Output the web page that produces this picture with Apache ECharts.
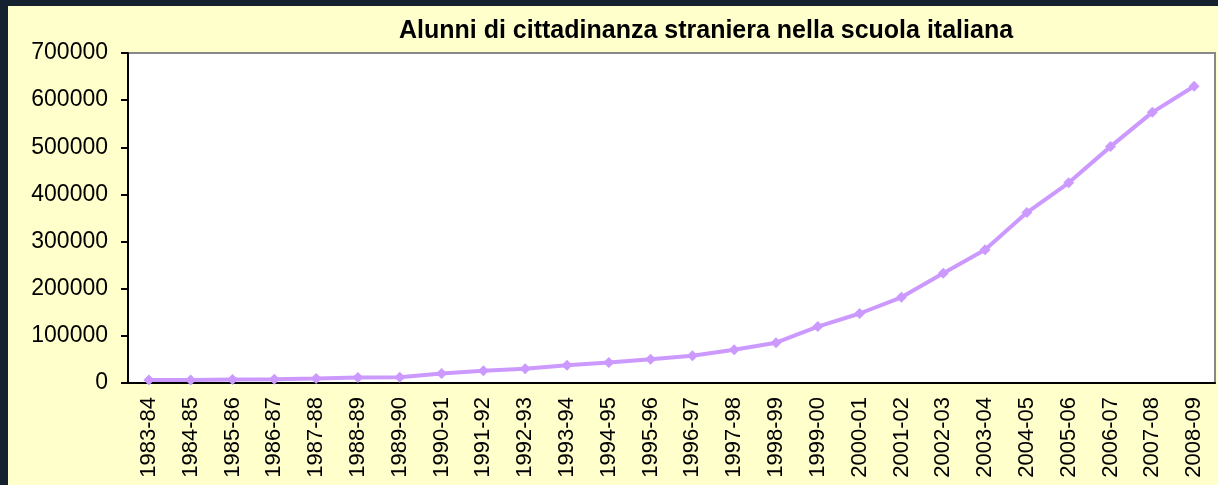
<!DOCTYPE html>
<html>
<head>
<meta charset="utf-8">
<script src="https://cdn.jsdelivr.net/npm/echarts@6/dist/echarts.min.js"></script>
<style>
  html, body { margin: 0; padding: 0; background: #15212f; width: 1218px; height: 485px; overflow: hidden; }
  #chart { position: absolute; left: 8px; top: 6px; width: 1210px; height: 479px; background: #ffffcc; }
</style>
</head>
<body>
<div id="chart"></div>
<script>
// anni scolastici
const anni = ['1983-84', '1984-85', '1985-86', '1986-87', '1987-88', '1988-89', '1989-90',
  '1990-91', '1991-92', '1992-93', '1993-94', '1994-95', '1995-96', '1996-97', '1997-98',
  '1998-99', '1999-00', '2000-01', '2001-02', '2002-03', '2003-04', '2004-05', '2005-06',
  '2006-07', '2007-08', '2008-09'];
// alunni stranieri
const alunni = [6104, 6173, 7216, 8186, 9530, 11791, 12114, 19994, 25756, 30135, 37478,
  43312, 50322, 57595, 70657, 85522, 119679, 147406, 181767, 232766, 282683, 361576,
  424683, 501420, 574133, 629360];
const titolo = 'Alunni di cittadinanza straniera nella scuola italiana';

let myChart = echarts.init(document.getElementById('chart'));
let option = {
  animation: false,
  textStyle: { fontFamily: 'Liberation Sans, Arial, sans-serif' },
  title: {
    text: titolo,
    left: 386,
    top: 8,
    textStyle: { fontSize: 25, fontWeight: 'bold', color: '#000' }
  },
  grid: {
    left: 120, top: 47, right: 3, bottom: 102,
    show: true, backgroundColor: '#fff', borderColor: '#888', borderWidth: 2
  },
  xAxis: {
    type: 'category',
    data: anni,
    boundaryGap: true,
    axisLine: { lineStyle: { color: '#000', width: 2 } },
    axisTick: { length: 7, lineStyle: { color: '#000', width: 2 } },
    axisLabel: { rotate: 90, fontSize: 22, color: '#000', margin: 14, interval: 0 }
  },
  yAxis: {
    type: 'value',
    min: 0, max: 700000, interval: 100000,
    axisLine: { show: true, lineStyle: { color: '#000', width: 2 } },
    axisTick: { show: true, length: 7, lineStyle: { color: '#000', width: 2 } },
    axisLabel: { fontSize: 23, color: '#000', margin: 20, formatter: v => String(v) },
    splitLine: { show: false }
  },
  series: [{
    type: 'line',
    data: alunni,
    symbol: 'diamond',
    symbolSize: 11,
    lineStyle: { color: '#cc99ff', width: 4 },
    itemStyle: { color: '#cc99ff' }
  }]
};
myChart.setOption(option);
</script>
</body>
</html>
